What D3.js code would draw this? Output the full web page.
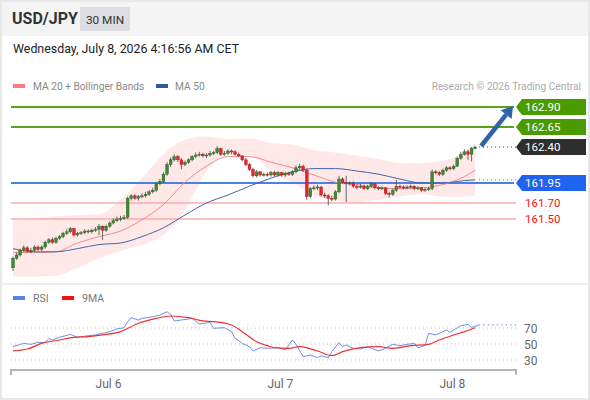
<!DOCTYPE html>
<html><head><meta charset="utf-8">
<script src="https://cdn.jsdelivr.net/npm/d3@7"></script>
<style>
html,body{margin:0;padding:0;background:#fff;}
svg{display:block;font-family:Roboto,"Noto Sans",Arial,sans-serif;}
</style></head>
<body>
<svg id="c" width="590" height="400"></svg>
<script>
// ---------- DATA ----------
const symbol = "USD/JPY";
const timeframe = "30 MIN";
const dateText = "Wednesday, July 8, 2026 4:16:56 AM CET";
const credit = "Research \u00a9 2026 Trading Central";

const opens = [160.89,161.01,161.05,161.11,161.14,161.10,161.11,161.15,161.12,161.15,161.21,161.24,161.21,161.26,161.28,161.32,161.34,161.38,161.30,161.32,
161.33,161.35,161.34,161.36,161.37,161.41,161.36,161.41,161.45,161.48,161.50,161.51,161.52,161.76,161.79,161.76,161.78,161.79,161.81,161.84,
161.86,161.94,161.97,162.06,162.18,162.24,162.28,162.24,162.18,162.21,162.24,162.28,162.30,162.31,162.29,162.30,162.32,162.33,162.38,162.31,
162.32,162.35,162.34,162.31,162.29,162.24,162.18,162.12,162.04,162.09,162.05,162.06,162.05,162.08,162.05,162.08,162.05,162.07,162.06,162.09,
162.14,162.16,162.11,161.78,161.88,161.89,161.90,161.80,161.79,161.76,161.75,161.84,162.00,161.96,161.94,161.95,161.91,161.90,161.91,161.88,
161.91,161.94,161.89,161.88,161.89,161.82,161.81,161.86,161.91,161.90,161.89,161.90,161.91,161.88,161.89,161.86,161.87,161.88,162.09,162.08,
162.06,162.11,162.14,162.13,162.16,162.26,162.31,162.34,162.31,162.38];
const closes = [161.01,161.05,161.11,161.14,161.10,161.11,161.15,161.12,161.15,161.21,161.24,161.21,161.26,161.28,161.32,161.34,161.38,161.30,161.32,161.33,
161.35,161.34,161.36,161.37,161.41,161.36,161.41,161.45,161.48,161.50,161.51,161.52,161.76,161.79,161.76,161.78,161.79,161.81,161.84,161.86,
161.94,161.97,162.06,162.18,162.24,162.28,162.24,162.18,162.21,162.24,162.28,162.30,162.31,162.29,162.30,162.32,162.33,162.38,162.31,162.32,
162.35,162.34,162.31,162.29,162.24,162.18,162.12,162.04,162.09,162.05,162.06,162.05,162.08,162.05,162.08,162.05,162.07,162.06,162.09,162.14,
162.16,162.11,161.78,161.88,161.89,161.90,161.80,161.79,161.76,161.75,161.84,162.00,161.96,161.94,161.95,161.91,161.90,161.91,161.88,161.91,
161.94,161.89,161.88,161.89,161.82,161.81,161.86,161.91,161.90,161.89,161.90,161.91,161.88,161.89,161.86,161.87,161.88,162.09,162.08,162.06,
162.11,162.14,162.13,162.16,162.26,162.31,162.34,162.31,162.38,162.40];
const highs = [161.03,161.08,161.13,161.17,161.16,161.14,161.17,161.17,161.17,161.23,161.26,161.27,161.28,161.30,161.34,161.37,161.40,161.39,161.34,161.35,
161.37,161.37,161.38,161.40,161.44,161.42,161.43,161.47,161.51,161.53,161.54,161.55,161.78,161.81,161.81,161.80,161.82,161.84,161.86,161.89,
161.96,162.00,162.09,162.21,162.27,162.31,162.30,162.26,162.23,162.26,162.30,162.33,162.34,162.33,162.32,162.35,162.35,162.41,162.39,162.35,
162.37,162.37,162.36,162.33,162.30,162.26,162.20,162.14,162.11,162.10,162.08,162.08,162.10,162.10,162.10,162.09,162.09,162.09,162.11,162.17,
162.19,162.18,162.13,161.90,161.92,161.93,161.91,161.83,161.81,161.79,161.86,162.04,162.02,162.04,161.97,161.97,161.93,161.94,161.93,161.93,
161.96,161.95,161.91,161.91,161.90,161.84,161.88,161.99,161.93,161.92,161.92,161.93,161.92,161.91,161.90,161.89,161.90,162.12,162.11,162.10,
162.13,162.16,162.16,162.18,162.28,162.34,162.37,162.37,162.40,162.41];
const lows = [160.85,160.99,161.03,161.09,161.08,161.07,161.09,161.10,161.10,161.13,161.19,161.19,161.19,161.24,161.26,161.30,161.32,161.28,161.28,161.30,
161.31,161.32,161.32,161.34,161.30,161.24,161.34,161.39,161.43,161.46,161.47,161.49,161.50,161.73,161.74,161.73,161.76,161.77,161.79,161.82,
161.84,161.92,161.95,162.04,162.15,162.22,162.21,162.12,162.16,162.19,162.22,162.26,162.28,162.27,162.26,162.28,162.30,162.31,162.29,162.29,
162.30,162.31,162.29,162.27,162.22,162.16,162.10,162.02,162.02,162.03,162.03,162.03,162.03,162.03,162.03,162.03,162.03,162.04,162.04,162.07,
162.12,162.09,161.74,161.76,161.86,161.86,161.78,161.76,161.67,161.72,161.73,161.82,161.94,161.71,161.92,161.89,161.87,161.88,161.86,161.86,
161.89,161.87,161.86,161.86,161.80,161.77,161.79,161.84,161.88,161.87,161.87,161.88,161.86,161.86,161.84,161.84,161.85,161.86,162.06,162.04,
162.04,162.09,162.11,162.11,162.15,162.24,162.29,162.24,162.22,162.37];

// indicator samples (candle index -> value)
const bandIdx = [0,6,12,18,24,30,36,42,48,54,60,66,72,78,84,90,96,102,108,114,120,126,129];
const bbUpper = [161.48,161.50,161.53,161.55,161.56,161.74,162.01,162.31,162.49,162.53,162.50,162.51,162.45,162.43,162.36,162.33,162.29,162.25,162.20,162.20,162.23,162.33,162.45];
const bbLower = [160.78,160.78,160.79,160.89,161.01,161.10,161.18,161.30,161.61,162.10,162.31,162.30,162.10,161.95,161.80,161.73,161.71,161.74,161.78,161.81,161.78,161.78,161.79];
const ma20 = [161.08,161.08,161.09,161.20,161.28,161.35,161.49,161.68,161.96,162.16,162.28,162.28,162.21,162.14,162.05,161.96,161.93,161.89,161.88,161.89,161.93,162.03,162.11];
const ma50 = [161.13,161.09,161.09,161.13,161.18,161.20,161.28,161.39,161.55,161.70,161.80,161.91,162.01,162.09,162.13,162.13,162.10,162.06,162.00,161.95,161.95,161.98,161.99];

const rsiIdx = [0,3,5,7,9,10,11,13,16,18,21,23,25,27,29,31,32,33,35,36,39,41,43,44,45,47,50,52,55,56,59,61,62,64,66,67,69,71,74,76,78,79,81,83,85,86,88,89,91,92,93,95,97,99,100,102,104,106,108,110,112,113,115,116,118,121,122,125,127,128,130];
const rsi = [46.7,50.8,49.6,52,52,57,55,58.4,62,58.4,60.4,61.3,63.3,65.4,68.8,70.4,77.9,82.9,80,82,84,86,90.4,87,78.8,80,82,75,77,69.6,70.4,65.4,57,50.8,46.7,41.3,45.4,44.6,45.4,42.5,55,49.6,34.2,36.2,32.9,35.4,32.9,40.4,51.7,46.7,48.7,44.6,43.7,46.7,44.6,41.3,44.6,49.6,47.9,49.6,50.8,45.4,47.9,63.3,61.3,67.5,64.6,72.9,74.6,70.8,73.8];
const maIdx = [0,4,8,13,17,21,25,30,35,40,44,49,53,56,61,64,68,71,73,77,80,85,89,92,97,102,106,111,116,119,123,126,129];
const rsiMA = [41.3,43.7,50.8,55,58.4,59.2,61.3,65.4,75.9,82,85,82.9,78.8,77.9,73.8,65.4,52.9,47.9,45.4,44.6,46.7,41.3,35.4,40.4,45.4,46.7,44.6,47.9,49.6,55,61.3,65.4,70.4];
const rsiLevels = [70, 50, 30];

const dayTicks = [26.5, 74.5, 122.5];
const dayLabels = ["Jul 6", "Jul 7", "Jul 8"];

const levels = [
  {v:162.90, kind:"res"}, {v:162.65, kind:"res"},
  {v:161.95, kind:"pivot"},
  {v:161.70, kind:"sup"}, {v:161.50, kind:"sup"}
];
const lastPrice = 162.40;
const lastLabels = ["162.90","162.65","162.40","161.95","161.70","161.50"];

// ---------- DRAW ----------
const svg = d3.select("#c");
const W = 590, H = 400;
const xL = 11, xR = 516;

// frame / header
svg.append("rect").attr("x",0).attr("y",0).attr("width",W).attr("height",H).attr("fill","#fff");
svg.append("rect").attr("x",0).attr("y",0).attr("width",W).attr("height",36).attr("fill","#f4f4f4");
svg.append("rect").attr("x",1).attr("y",1).attr("width",W-2).attr("height",H-2).attr("fill","none").attr("stroke","#e8e8e8").attr("stroke-width",2);
svg.append("line").attr("x1",0).attr("x2",W).attr("y1",284).attr("y2",284).attr("stroke","#ececec").attr("stroke-width",2);

svg.append("text").attr("x",12).attr("y",24).attr("font-size",16).attr("font-weight","bold").attr("fill","#333").text(symbol);
svg.append("rect").attr("x",80).attr("y",7).attr("width",50).attr("height",24).attr("fill","#dcdee2");
svg.append("text").attr("x",105).attr("y",23.5).attr("text-anchor","middle").attr("font-size",11.8).attr("fill","#333").text(timeframe);
svg.append("text").attr("x",13).attr("y",53).attr("font-size",12.4).attr("fill","#222").text(dateText);

// legend
svg.append("rect").attr("x",13).attr("y",84).attr("width",12).attr("height",4).attr("fill","#ff7b7b");
svg.append("text").attr("x",33).attr("y",90).attr("font-size",10.2).attr("fill","#888").text("MA 20 + Bollinger Bands");
svg.append("rect").attr("x",156).attr("y",84).attr("width",12).attr("height",4).attr("fill","#2f5a9e");
svg.append("text").attr("x",175).attr("y",90).attr("font-size",10.2).attr("fill","#888").text("MA 50");
svg.append("text").attr("x",581).attr("y",90).attr("text-anchor","end").attr("font-size",10.2).attr("fill","#aaa").text(credit);

// scales
const x = d3.scaleLinear().domain([-0.56, 140.4]).range([xL, xR]);
const y = d3.scaleLinear().domain([161.5, 162.9]).range([219, 107]);
const yr = d3.scaleLinear().domain([30, 70]).range([360, 328]);

// bollinger band
const band = bandIdx.map((d,i)=>({i:d, u:bbUpper[i], l:bbLower[i], m:ma20[i], m50:ma50[i]}));
svg.append("path").datum(band)
  .attr("d", d3.area().x(d=>x(d.i)).y0(d=>y(d.l)).y1(d=>y(d.u)).curve(d3.curveMonotoneX))
  .attr("fill","#ffcccc").attr("opacity",0.45);

// horizontal levels
levels.forEach(L=>{
  const col = L.kind==="res" ? "#58a21c" : L.kind==="pivot" ? "#4d7fe6" : "#ffaaaa";
  const sw = L.kind==="sup" ? 1.6 : 2;
  svg.append("line").attr("x1",xL).attr("x2",L.kind==="sup"?xR:xR-2).attr("y1",y(L.v)).attr("y2",y(L.v))
    .attr("stroke",col).attr("stroke-width",sw);
});

// MA lines
svg.append("path").datum(band)
  .attr("d", d3.line().x(d=>x(d.i)).y(d=>y(d.m)).curve(d3.curveMonotoneX))
  .attr("fill","none").attr("stroke","#f38b8b").attr("stroke-width",1);
svg.append("path").datum(band)
  .attr("d", d3.line().x(d=>x(d.i)).y(d=>y(d.m50)).curve(d3.curveMonotoneX))
  .attr("fill","none").attr("stroke","#4566a8").attr("stroke-width",1);

// candles
const candles = closes.map((c,i)=>({i, o:opens[i], c, h:highs[i], l:lows[i]}));
const cg = svg.append("g");
cg.selectAll("line.w").data(candles).join("line")
  .attr("x1",d=>x(d.i)).attr("x2",d=>x(d.i)).attr("y1",d=>y(d.h)).attr("y2",d=>y(d.l))
  .attr("stroke","#444").attr("stroke-width",0.8);
cg.selectAll("rect").data(candles).join("rect")
  .attr("x",d=>x(d.i)-1.4).attr("width",2.8)
  .attr("y",d=>y(Math.max(d.o,d.c)))
  .attr("height",d=>Math.max(1, Math.abs(y(d.o)-y(d.c))))
  .attr("fill",d=>d.c>=d.o ? "#3e8a2e" : "#e8222a")
  .attr("stroke",d=>d.c>=d.o ? "#2b5e22" : "#a61a1a").attr("stroke-width",0.4);

// dotted extensions
const lastX = x(closes.length-1)+4;
svg.append("line").attr("x1",lastX).attr("x2",xR).attr("y1",y(lastPrice)).attr("y2",y(lastPrice))
  .attr("stroke","#333").attr("stroke-width",1).attr("stroke-dasharray","1,3");
svg.append("line").attr("x1",lastX).attr("x2",xR).attr("y1",y(ma50[ma50.length-1])).attr("y2",y(ma50[ma50.length-1]))
  .attr("stroke","#3a6ad8").attr("stroke-width",1).attr("stroke-dasharray","1,3");

// arrow
const ax0 = x(closes.length-1)+6, ay0 = y(lastPrice)-1;
const ax1 = xR-3, ay1 = y(162.90)-1;
const ang = Math.atan2(ay1-ay0, ax1-ax0);
const hl = 11, hw = 7;
const bx = ax1 - hl*Math.cos(ang), by = ay1 - hl*Math.sin(ang);
svg.append("line").attr("x1",ax0).attr("y1",ay0).attr("x2",bx).attr("y2",by)
  .attr("stroke","#2f62a6").attr("stroke-width",4.5);
svg.append("polygon").attr("fill","#2f62a6").attr("points",[
  [ax1,ay1],
  [bx + hw*Math.sin(ang), by - hw*Math.cos(ang)],
  [bx - hw*Math.sin(ang), by + hw*Math.cos(ang)]
].map(p=>p.join(",")).join(" "));

// price tags
const tags = [
  {v:162.90, t:lastLabels[0], bg:"#4a9b00", fg:"#fff"},
  {v:162.65, t:lastLabels[1], bg:"#4a9b00", fg:"#fff"},
  {v:162.40, t:lastLabels[2], bg:"#2e2e2e", fg:"#fff"},
  {v:161.95, t:lastLabels[3], bg:"#1f63ef", fg:"#fff"},
  {v:161.70, t:lastLabels[4], bg:null, fg:"#f01414"},
  {v:161.50, t:lastLabels[5], bg:null, fg:"#f01414"}
];
tags.forEach(T=>{
  const cy = y(T.v);
  if (T.bg) {
    svg.append("polygon").attr("fill",T.bg)
      .attr("points",`${xR},${cy} ${xR+6},${cy-8} 586,${cy-8} 586,${cy+8} ${xR+6},${cy+8}`);
  }
  svg.append("text").attr("x",525).attr("y",cy+4.2).attr("font-size",11.5).attr("fill",T.fg).text(T.t);
});

// ---- RSI panel ----
svg.append("rect").attr("x",13).attr("y",296).attr("width",12).attr("height",4).attr("fill","#5b82e6");
svg.append("text").attr("x",33).attr("y",302).attr("font-size",10.5).attr("fill","#777").text("RSI");
svg.append("rect").attr("x",62).attr("y",296).attr("width",12).attr("height",4).attr("fill","#f01010");
svg.append("text").attr("x",82).attr("y",302).attr("font-size",10.5).attr("fill","#777").text("9MA");

rsiLevels.forEach(v=>{
  svg.append("line").attr("x1",xL).attr("x2",xR).attr("y1",yr(v)).attr("y2",yr(v))
    .attr("stroke","#bbb").attr("stroke-width",1).attr("stroke-dasharray","1,3");
  svg.append("text").attr("x",524).attr("y",yr(v)+4.5).attr("font-size",12).attr("fill","#666").text(v);
});

const rsiData = rsiIdx.map((d,i)=>({i:d, v:rsi[i]}));
svg.append("path").datum(rsiData)
  .attr("d", d3.line().x(d=>x(d.i)).y(d=>yr(d.v)))
  .attr("fill","none").attr("stroke","#6f8fe8").attr("stroke-width",1);
const lastR = rsiData[rsiData.length-1];
svg.append("line").attr("x1",x(lastR.i)).attr("x2",xR).attr("y1",yr(lastR.v)).attr("y2",yr(lastR.v))
  .attr("stroke","#6f8fe8").attr("stroke-width",1).attr("stroke-dasharray","1.5,3");
const maData = maIdx.map((d,i)=>({i:d, v:rsiMA[i]}));
svg.append("path").datum(maData)
  .attr("d", d3.line().x(d=>x(d.i)).y(d=>yr(d.v)).curve(d3.curveMonotoneX))
  .attr("fill","none").attr("stroke","#f03030").attr("stroke-width",1.2);

// x axis
const axis = d3.axisBottom(x).tickValues(dayTicks).tickFormat((d,i)=>dayLabels[i])
  .tickSizeInner(0).tickSizeOuter(5).tickPadding(9);
const ag = svg.append("g").attr("transform","translate(0,370)").call(axis);
ag.select(".domain").attr("stroke","#b5b5b5").attr("stroke-width",2)
  .attr("d", `M${xL},5V0H${xR}V5`);
ag.selectAll("text").attr("font-size",12).attr("fill","#666").attr("font-family","Roboto,Arial,sans-serif");
</script>
</body></html>
